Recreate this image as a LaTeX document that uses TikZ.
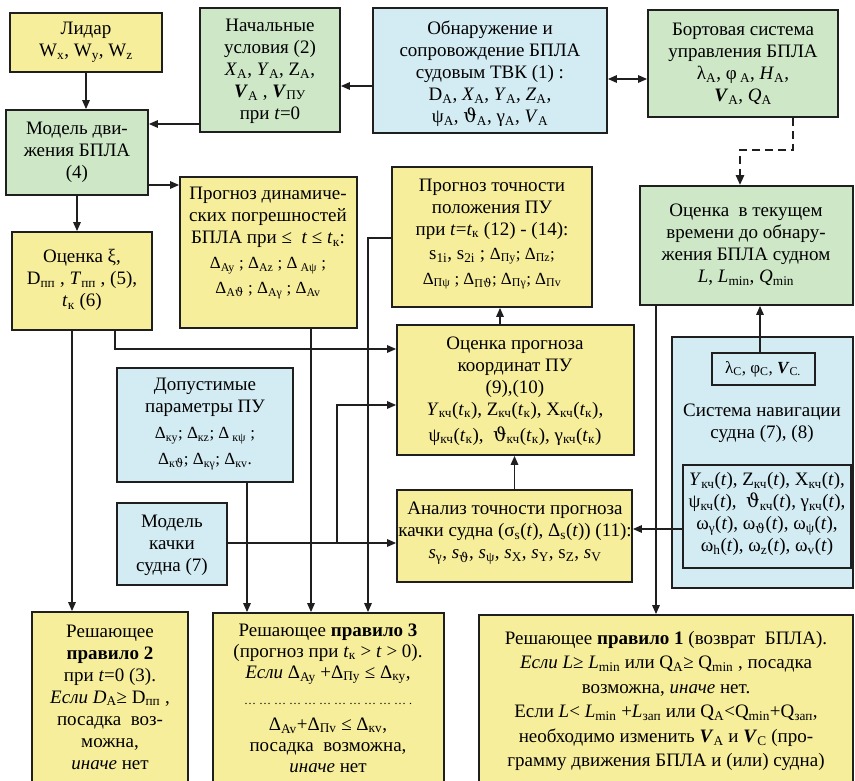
\documentclass[tikz,border=0pt]{standalone}
\usepackage{fontspec}
\setmainfont{Liberation Serif}
\newfontfamily\dvs{DejaVu Serif}
\usetikzlibrary{arrows.meta}
\newcommand{\lw}[1]{\textsubscript{#1}}
\newcommand{\vth}{{\dvs ϑ}}
\newcommand{\bv}{\textbf{\textit{V}}}
\newcommand{\dsz}{\fontsize{17}{20}\selectfont}
\newcommand{\bx}[6]{\node[box,fill=#2,minimum width={#5-#3},minimum height={#6-#4}] (#1) at ({(#3+#5)/2},{(#4+#6)/2}) {};}
\definecolor{yel}{HTML}{F7EE9C}
\definecolor{grn}{HTML}{CDE7C7}
\definecolor{blu}{HTML}{D3ECF3}
\begin{document}
\begin{tikzpicture}[x=1pt,y=-1pt,
 box/.style={draw=black!88,line width=1.8pt,inner sep=0pt},
 txt/.style={align=center,inner sep=0pt,font=\fontsize{19}{22}\selectfont},
 conn/.style={line width=1.5pt,draw=black!88},
 arr/.style={conn,-{Triangle[length=9pt,width=7.5pt]}},
 darr/.style={conn,{Triangle[length=9pt,width=7.5pt]}-{Triangle[length=9pt,width=7.5pt]}},
 dsh/.style={line width=2.6pt,draw=black!88,dash pattern=on 8pt off 5pt,-{Triangle[length=10pt,width=8pt]}},
]
\fill[white] (0,0) rectangle (855,781);
\useasboundingbox (0,0) rectangle (855,781);

% boxes
\bx{lid}{yel}{10}{13}{162}{72}
\bx{nach}{grn}{200}{8}{340}{132}
\bx{obn}{blu}{373}{8}{607}{133}
\bx{bort}{grn}{648}{10}{838}{117}
\bx{model}{grn}{6}{110}{148}{195}
\bx{ocx}{yel}{12}{232}{152}{330}
\bx{prd}{yel}{180}{177}{357}{328}
\bx{pt}{yel}{392}{167}{592}{307}
\bx{ot}{grn}{640}{186}{853}{305}
\bx{op}{yel}{397}{325}{634}{455}
\bx{an}{yel}{397}{490}{632}{582}
\bx{dop}{blu}{117}{368}{293}{482}
\bx{mk}{blu}{117}{503}{227}{585}
\bx{nav}{blu}{672}{337}{853}{588}
\bx{lam}{blu}{712}{353}{815}{385}
\bx{nav2}{blu}{683}{465}{851}{568}
\bx{r2}{yel}{32}{612}{188}{800}
\bx{r3}{yel}{213}{613}{444}{800}
\bx{r1}{yel}{479}{615}{853}{800}

% texts
\node[txt] (lidt) at (86,42) {Лидар\\W\lw{x}, W\lw{y}, W\lw{z}};
\node[txt] (nacht) at (270,71) {Начальные\\условия (2)\\\textit{X}\lw{A}, \textit{Y}\lw{A}, Z\lw{A},\\\bv\lw{A} , \bv\lw{ПУ}\\при \textit{t}=0};
\node[txt] (obnt) at (490,74) {Обнаружение и\\сопровождение БПЛА\\судовым ТВК (1) :\\D\lw{A}, \textit{X}\lw{A}, \textit{Y}\lw{A}, \textit{Z}\lw{A},\\ψ\lw{A}, \vth\lw{A}, γ\lw{A}, \textit{V}\lw{A}};
\node[txt] (bortt) at (743,64) {Бортовая система\\управления БПЛА\\λ\lw{A}, φ\lw{ A}, \textit{H}\lw{A},\\\bv\lw{A}, \textit{Q}\lw{A}};
\node[txt] (modelt) at (77,152) {Модель дви-\\жения БПЛА\\(4)};
\node[txt] (ocxt) at (82,280) {Оценка ξ,\\D\lw{пп} , \textit{T}\lw{пп} , (5),\\\textit{t}\lw{к} (6)};
\node[txt] (prdt) at (268,243) {Прогноз динамиче-\\ских погрешностей\\БПЛА при ≤ \ \textit{t} ≤ \textit{t}\lw{к}:\\[3pt]{\dsz Δ\lw{Ay} ; Δ\lw{Az} ; Δ\lw{ Aψ} ;}\\[3pt]{\dsz Δ\lw{A\vth} ; Δ\lw{Aγ} ; Δ\lw{Av}}};
\node[txt] (ptt) at (492,234) {Прогноз точности\\положения ПУ\\при \textit{t}=\textit{t}\lw{к} (12) - (14):\\[2pt]s\lw{1i}, s\lw{2i} ; {\dsz Δ\lw{Пy}; Δ\lw{Пz};}\\[3pt]{\dsz Δ\lw{Пψ} ; Δ\lw{П\vth}; Δ\lw{Пγ}; Δ\lw{Пv}}};
\node[txt] (ott) at (746,245) {Оценка \ в текущем\\времени до обнару-\\жения БПЛА судном\\\textit{L}, \textit{L}\lw{min}, \textit{Q}\lw{min}};
\node[txt] (opt) at (515,391) {Оценка прогноза\\координат ПУ\\(9),(10)\\\textit{Y}\lw{кч}(\textit{t}\lw{к}), Z\lw{кч}(\textit{t}\lw{к}), X\lw{кч}(\textit{t}\lw{к}),\\[4pt]ψ\lw{кч}(\textit{t}\lw{к}), \ \vth\lw{кч}(\textit{t}\lw{к}), γ\lw{кч}(\textit{t}\lw{к})};
\node[txt] (ant) at (515,533) {Анализ точности прогноза\\качки судна (σ\lw{s}(\textit{t}), Δ\lw{s}(\textit{t})) (11):\\\textit{s}\lw{γ}, \textit{s}\lw{\vth}, \textit{s}\lw{ψ}, \textit{s}\lw{X}, \textit{s}\lw{Y}, s\lw{Z}, \textit{s}\lw{V}};
\node[txt] (dopt) at (205,424) {Допустимые\\параметры ПУ\\[4pt]{\dsz Δ\lw{кy}; Δ\lw{кz}; Δ\lw{ кψ} ;}\\[4pt]{\dsz Δ\lw{к\vth}; Δ\lw{кγ}; Δ\lw{кv}.}};
\node[txt] (mkt) at (172,545) {Модель\\качки\\судна (7)};
\node[txt,font=\fontsize{17}{20}\selectfont] (lamt) at (763,369) {λ\lw{C}, φ\lw{C}, \bv\lw{C.}};
\node[txt] (navt) at (762,423) {Система навигации\\судна (7), (8)};
\node[txt] (nav2t) at (767,514) {\textit{Y}\lw{кч}(\textit{t}), Z\lw{кч}(\textit{t}), X\lw{кч}(\textit{t}),\\ψ\lw{кч}(\textit{t}), \ \vth\lw{кч}(\textit{t}), γ\lw{кч}(\textit{t}),\\ω\lw{γ}(\textit{t}), ω\lw{\vth}(\textit{t}), ω\lw{ψ}(\textit{t}),\\ω\lw{h}(\textit{t}), ω\lw{z}(\textit{t}), ω\lw{v}(\textit{t})};
\node[txt] (r2t) at (110,697) {Решающее\\\textbf{правило 2}\\при \textit{t}=0 (3).\\\textit{Если D}\lw{A}≥ D\lw{пп} ,\\посадка \ воз-\\можна,\\\textit{иначе} нет};
\node[txt,font=\fontsize{19}{21}\selectfont] (r3t) at (328,698) {Решающее \textbf{правило 3}\\(прогноз при \textit{t}\lw{к} > \textit{t} > 0).\\\textit{Если} Δ\lw{Ay} +Δ\lw{Пy} ≤ Δ\lw{кy},\\[5pt]{\fontsize{12}{12}\selectfont … … … … … … … … … … … .}\\[5pt]Δ\lw{Av}+Δ\lw{Пv} ≤ Δ\lw{кv},\\посадка \ возможна,\\\textit{иначе} нет};
\node[txt,font=\fontsize{19}{24.5}\selectfont] (r1t) at (666,701) {Решающее \textbf{правило 1} (возврат \ БПЛА).\\\textit{Если L}≥ \textit{L}\lw{min} или Q\lw{A}≥ Q\lw{min} , посадка\\возможна, \textit{иначе} нет.\\Если \textit{L}< \textit{L}\lw{min} +\textit{L}\lw{зап} или Q\lw{A}<Q\lw{min}+Q\lw{зап},\\необходимо изменить \bv\lw{A} и \bv\lw{C} (про-\\грамму движения БПЛА и (или) судна)};

% connectors
\draw[arr] (lid.south) -- (lid.south |- model.north);
\draw[arr] (obn.west |- 0,86) -- (nach.east |- 0,86);
\draw[darr] (obn.east |- 0,79) -- (bort.west |- 0,79);
\draw[dsh] (bort.south -| 793,0) -- (793,150) -- (740,150) -- (ot.north -| 740,0);
\draw[arr] (nach.west |- 0,124) -- (model.east |- 0,124);
\draw[arr] (model.east |- 0,185) -- (prd.west |- 0,185);
\draw[arr] (model.south) -- (model.south |- ocx.north);
\draw[arr] (ocx.south -| 72,0) -- (r2.north -| 72,0);
\draw[arr] (ocx.south -| 115,0) |- (op.west |- 0,349);
\draw[arr] (prd.south -| 311,0) -- (r3.north -| 311,0);
\draw[arr] (pt.west |- 0,238) -| (r3.north -| 368,0);
\draw[arr] (dop.south -| 247,0) -- (r3.north -| 247,0);
\coordinate (br) at (337,543);
\draw[arr] (mk.east |- 0,543) -- (an.west |- 0,543);
\draw[arr] (br) |- (op.west |- 0,405);
\draw[arr] (op.north -| 500,0) -- (pt.south -| 500,0);
\draw[arr] (an.north) -- (an.north |- op.south);
\draw[arr] (lam.north -| 760,0) -- (ot.south -| 760,0);
\draw[arr] (nav2.west |- 0,529) -- (an.east |- 0,529);
\draw[arr] (ot.south -| 656,0) -- (r1.north -| 656,0);
\end{tikzpicture}
\end{document}
